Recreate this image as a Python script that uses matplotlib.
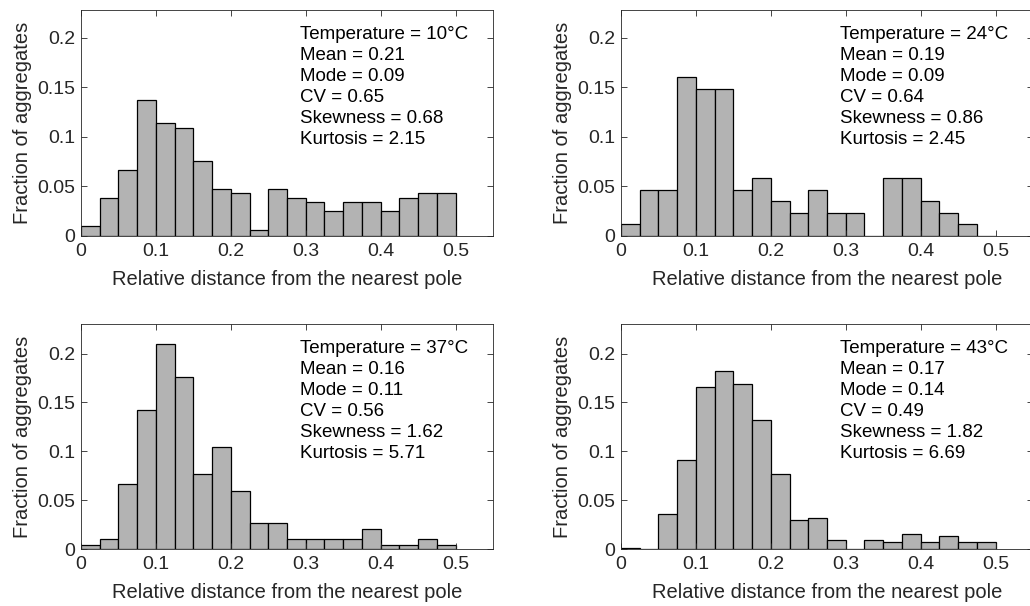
import matplotlib.pyplot as plt
import numpy as np

plt.rcParams['font.family'] = ['Liberation Sans', 'DejaVu Sans']

bin_edges = np.arange(0, 0.5001, 0.025)

frac_10 = [0.0104, 0.0387, 0.0666, 0.1375, 0.114, 0.1093, 0.0757, 0.0477, 0.043, 0.0064,
           0.0477, 0.0383, 0.034, 0.0249, 0.034, 0.034, 0.0249, 0.0383, 0.043, 0.043]
frac_24 = [0.0117, 0.0466, 0.0466, 0.160, 0.148, 0.148, 0.0466, 0.058, 0.0349, 0.0235,
           0.0466, 0.0235, 0.0235, 0.0, 0.058, 0.058, 0.0349, 0.0235, 0.0117, 0.0]
frac_37 = [0.0044, 0.0102, 0.0661, 0.1424, 0.2095, 0.176, 0.0767, 0.1046, 0.0596, 0.0269,
           0.0269, 0.0102, 0.0102, 0.0102, 0.0102, 0.0208, 0.0044, 0.0044, 0.0102, 0.0044]
frac_43 = [0.001, 0.0, 0.0361, 0.0906, 0.1656, 0.1823, 0.169, 0.1315, 0.0763, 0.0293,
           0.0313, 0.0092, 0.0, 0.0092, 0.0068, 0.015, 0.0068, 0.0136, 0.0068, 0.0068]

stats_lines = [
    ['Temperature = 10°C', 'Mean = 0.21', 'Mode = 0.09', 'CV = 0.65', 'Skewness = 0.68', 'Kurtosis = 2.15'],
    ['Temperature = 24°C', 'Mean = 0.19', 'Mode = 0.09', 'CV = 0.64', 'Skewness = 0.86', 'Kurtosis = 2.45'],
    ['Temperature = 37°C', 'Mean = 0.16', 'Mode = 0.11', 'CV = 0.56', 'Skewness = 1.62', 'Kurtosis = 5.71'],
    ['Temperature = 43°C', 'Mean = 0.17', 'Mode = 0.14', 'CV = 0.49', 'Skewness = 1.82', 'Kurtosis = 6.69'],
]
all_fracs = [frac_10, frac_24, frac_37, frac_43]

x_ticks = [0, 0.1, 0.2, 0.3, 0.4, 0.5]
x_ticklabels = ['0', '0.1', '0.2', '0.3', '0.4', '0.5']
y_ticks = [0, 0.05, 0.1, 0.15, 0.2]
y_ticklabels = ['0', '0.05', '0.1', '0.15', '0.2']

# axes boxes in figure fractions (left, bottom, width, height)
positions = [
    [0.0786, 0.6106, 0.400, 0.373],
    [0.6029, 0.6106, 0.400, 0.373],
    [0.0786, 0.0940, 0.400, 0.371],
    [0.6029, 0.0940, 0.400, 0.371],
]
ylims = [0.228, 0.228, 0.23, 0.23]

fig = plt.figure(figsize=(10.30, 6.06), dpi=100)
axis_col = '#262626'

for k in range(4):
    ax = fig.add_axes(positions[k])
    ax.bar(bin_edges[:-1], all_fracs[k], width=0.025, align='edge',
           color='#b3b3b3', edgecolor='black', linewidth=0.9)
    ax.set_xlim(0, 0.55)
    ax.set_ylim(0, ylims[k])
    ax.set_xticks(x_ticks)
    ax.set_xticklabels(x_ticklabels)
    ax.set_yticks(y_ticks)
    ax.set_yticklabels(y_ticklabels)
    ax.tick_params(direction='in', top=True, right=True, length=4,
                   labelsize=14, colors=axis_col, width=0.6)
    ax.tick_params(axis='x', pad=5)
    ax.tick_params(axis='y', pad=4)
    for s in ax.spines.values():
        s.set_color(axis_col)
        s.set_linewidth(0.6)
    ax.set_xlabel('Relative distance from the nearest pole', fontsize=14.5, color=axis_col, labelpad=7.5)
    ax.set_ylabel('Fraction of aggregates', fontsize=14.5, color=axis_col, labelpad=4)
    ax.text(0.532, 0.93, '\n'.join(stats_lines[k]), transform=ax.transAxes,
            va='top', ha='left', fontsize=13.5, linespacing=1.31, color='black')

plt.savefig('out.png', dpi=100)
